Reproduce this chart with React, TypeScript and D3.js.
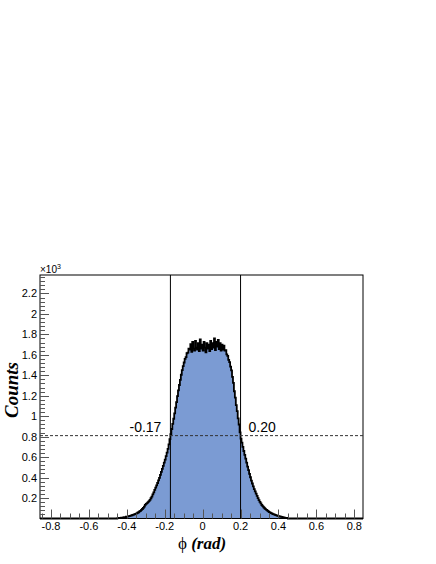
import React, { useEffect, useRef } from 'react';
import * as d3 from 'd3';

// histogram of phi, 0.005 rad bins starting at -0.45
const binStart = -0.45;
const binWidth = 0.005;
const counts = [
  3, 5, 5, 7, 8, 9, 10, 13, 14, 17,
  19, 21, 24, 26, 28, 32, 35, 38, 42, 46,
  50, 56, 61, 69, 75, 85, 93, 104, 117, 133,
  143, 151, 160, 170, 182, 198, 214, 236, 256, 279,
  301, 324, 347, 372, 398, 427, 455, 485, 515, 546,
  576, 609, 643, 681, 725, 775, 825, 875, 925, 975,
  1028, 1083, 1138, 1196, 1252, 1305, 1355, 1405, 1450, 1490,
  1525, 1560, 1578, 1615, 1622, 1660,
  1650, 1705, 1630, 1725, 1660, 1640, 1735, 1670, 1650, 1715,
  1635, 1750, 1660, 1700, 1640, 1725, 1670, 1625, 1715, 1660,
  1700, 1635, 1735, 1655, 1715, 1670, 1760, 1645, 1725, 1680,
  1745, 1655, 1715, 1640, 1700, 1650, 1690, 1640,
  1645, 1605, 1590, 1550, 1528, 1484, 1448, 1384, 1326, 1244,
  1182, 1108, 1050, 978, 919, 841, 780, 742, 700, 660,
  622, 585, 547, 508, 472, 437, 403, 370, 342, 314,
  288, 266, 244, 222, 200, 180, 162, 147, 132, 120,
  110, 100, 91, 84, 77, 70, 63, 58, 52, 48,
  43, 40, 35, 33, 28, 26, 23, 20, 17, 15,
  12, 11, 9, 7, 5, 3
];

const xTicks = [-0.8, -0.6, -0.4, -0.2, 0, 0.2, 0.4, 0.6, 0.8];
const xTickLabels = ['-0.8', '-0.6', '-0.4', '-0.2', '0', '0.2', '0.4', '0.6', '0.8'];
const yTicks = [200, 400, 600, 800, 1000, 1200, 1400, 1600, 1800, 2000, 2200];
const yTickLabels = ['0.2', '0.4', '0.6', '0.8', '1', '1.2', '1.4', '1.6', '1.8', '2', '2.2'];

// FWHM markers
const halfMax = 810;
const cutLow = -0.17;
const cutHigh = 0.20;
const cutLabels = ['-0.17', '0.20'];

const W = 436, H = 564;
const left = 40, right = 363, top = 275, bottom = 518.5;

export default function App() {
  const ref = useRef<SVGSVGElement>(null);

  useEffect(() => {
    const svg = d3.select(ref.current);
    svg.selectAll('*').remove();

    const x = d3.scaleLinear().domain([-0.858, 0.846]).range([left, right]);
    const y = d3.scaleLinear().domain([0, 2380]).range([bottom, top]);

    const pts: [number, number][] = [[-0.858, 0]];
    counts.forEach((c, i) => pts.push([binStart + i * binWidth, c]));
    pts.push([binStart + counts.length * binWidth, 0]);
    pts.push([0.846, 0]);

    const area = d3.area<[number, number]>()
      .x(d => x(d[0]))
      .y0(y(0))
      .y1(d => y(d[1]))
      .curve(d3.curveStepAfter);
    const line = d3.line<[number, number]>()
      .x(d => x(d[0]))
      .y(d => y(d[1]))
      .curve(d3.curveStepAfter);

    svg.append('path').attr('d', area(pts)).attr('fill', '#7b9bd3');
    svg.append('path').attr('d', line(pts))
      .attr('fill', 'none').attr('stroke', '#000').attr('stroke-width', 1.8);

    // frame
    svg.append('rect')
      .attr('x', left).attr('y', top)
      .attr('width', right - left).attr('height', bottom - top)
      .attr('fill', 'none').attr('stroke', '#000').attr('stroke-width', 1);

    const ticks = svg.append('g').attr('stroke', '#555').attr('stroke-width', 1);

    // x ticks: major 0.2, minor 0.05
    d3.range(-17, 17).map(k => k * 0.05).forEach(v => {
      if (v < -0.858 || v > 0.846) return;
      const major = Math.abs(Math.round(v / 0.2) * 0.2 - v) < 1e-6;
      const px = Math.round(x(v)) + 0.5;
      ticks.append('line')
        .attr('x1', px).attr('x2', px)
        .attr('y1', bottom).attr('y2', bottom - (major ? 9 : 5));
    });

    // y ticks: major 200, minor 40
    d3.range(1, 60).map(k => k * 40).forEach(v => {
      if (v > 2380) return;
      const major = v % 200 === 0;
      const py = Math.round(y(v)) + 0.5;
      ticks.append('line')
        .attr('x1', left).attr('x2', left + (major ? 9 : 5))
        .attr('y1', py).attr('y2', py);
    });

    const font = 'Liberation Sans, Arial, Helvetica, sans-serif';

    svg.append('g').selectAll('text').data(xTicks).enter().append('text')
      .attr('x', d => x(d)).attr('y', 530)
      .attr('text-anchor', 'middle')
      .attr('font-family', font).attr('font-size', 11)
      .text((d, i) => xTickLabels[i]);

    svg.append('g').selectAll('text').data(yTicks).enter().append('text')
      .attr('x', 37).attr('y', d => y(d) + 4)
      .attr('text-anchor', 'end')
      .attr('font-family', font).attr('font-size', 11)
      .text((d, i) => yTickLabels[i]);

    const exp = svg.append('text').attr('x', 40).attr('y', 273)
      .attr('font-family', font).attr('font-size', 10);
    exp.append('tspan').text('\u00d710');
    exp.append('tspan').attr('dy', -4).attr('font-size', 7).text('3');

    // cut lines
    [cutLow, cutHigh].forEach(v => {
      svg.append('line')
        .attr('x1', x(v)).attr('x2', x(v))
        .attr('y1', top).attr('y2', bottom)
        .attr('stroke', '#000').attr('stroke-width', 1);
    });
    svg.append('line')
      .attr('x1', left).attr('x2', right)
      .attr('y1', y(halfMax)).attr('y2', y(halfMax))
      .attr('stroke', '#333').attr('stroke-width', 1)
      .attr('stroke-dasharray', '3,2');

    svg.append('text').attr('x', x(cutLow) - 9).attr('y', 432)
      .attr('text-anchor', 'end')
      .attr('font-family', font).attr('font-size', 14)
      .text(cutLabels[0]);
    svg.append('text').attr('x', x(cutHigh) + 8).attr('y', 432)
      .attr('font-family', font).attr('font-size', 14)
      .text(cutLabels[1]);

    // axis titles
    const serif = 'Liberation Serif, Times New Roman, serif';
    const xt = svg.append('text').attr('x', 202).attr('y', 549)
      .attr('text-anchor', 'middle')
      .attr('font-family', serif).attr('font-size', 17);
    xt.append('tspan').text('\u03d5 ');
    xt.append('tspan').attr('font-weight', 'bold').attr('font-style', 'italic').text('(rad)');

    svg.append('text')
      .attr('transform', 'translate(18,390) rotate(-90)')
      .attr('text-anchor', 'middle')
      .attr('font-family', serif).attr('font-size', 19)
      .attr('font-weight', 'bold').attr('font-style', 'italic')
      .text('Counts');
  }, []);

  return (
    <svg ref={ref} width={W} height={H}
      style={{ position: 'absolute', left: 0, top: 0, background: '#fff' }} />
  );
}
